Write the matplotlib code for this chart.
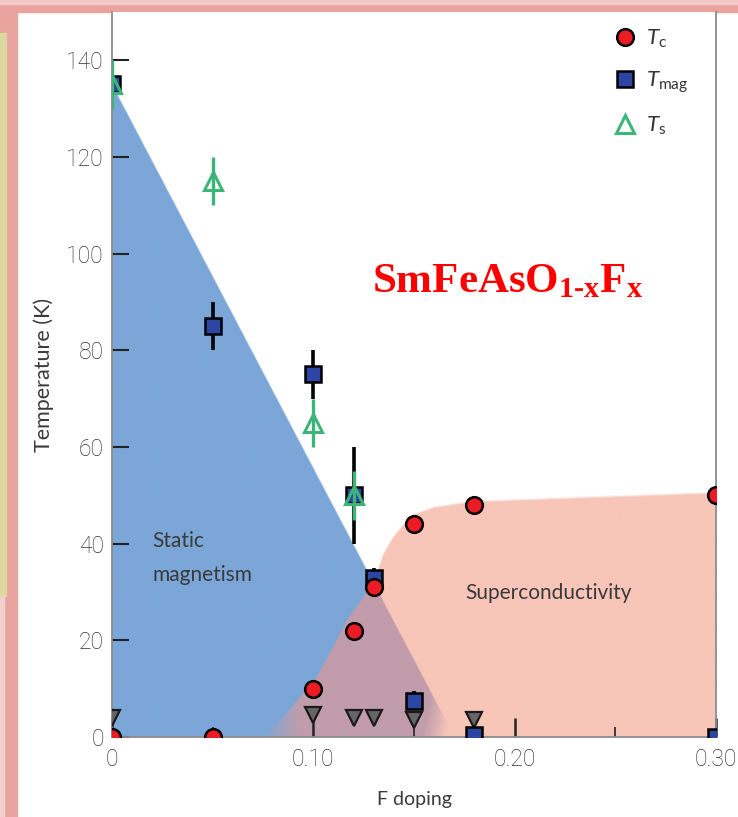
"""Phase diagram of SmFeAsO(1-x)F(x): magnetic, structural and superconducting transitions."""

import matplotlib
import matplotlib.pyplot as plt
import numpy as np
from matplotlib.lines import Line2D
from matplotlib.patches import Rectangle

matplotlib.use("Agg")

plt.rcParams["mathtext.fontset"] = "custom"
plt.rcParams["mathtext.rm"] = "Lato"
plt.rcParams["mathtext.it"] = "Lato:italic"
plt.rcParams["mathtext.bf"] = "Liberation Serif:bold"

# superconducting Tc
tc_x = [0.0, 0.05, 0.10, 0.12, 0.13, 0.15, 0.18, 0.30]
tc_T = [0, 0, 10, 22, 31, 44, 48, 50]

# magnetic ordering Tmag
mag_x = [0.0, 0.05, 0.10, 0.12, 0.13, 0.15, 0.18, 0.30]
mag_T = [135, 85, 75, 50, 33, 7.5, 0.5, 0]
mag_err = [0, 5, 5, 10, 2, 2, 0, 0]

# structural transition Ts
ts_x = [0.0, 0.05, 0.10, 0.12]
ts_T = [135, 115, 65, 50]
ts_err = [5, 5, 5, 5]

# low-temperature Sm ordering (grey down triangles)
sm_x = [0.0, 0.10, 0.12, 0.13, 0.15, 0.18]
sm_T = [4, 4.5, 4, 4, 3.5, 3.5]

# phase boundaries
mag_edge_x = [0.0, 0.17]
mag_edge_T = [135, 0]
sc_edge_x = [0.075, 0.085, 0.093, 0.101, 0.117, 0.13, 0.135, 0.14, 0.145, 0.15, 0.16, 0.18, 0.30]
sc_edge_T = [0, 4, 8, 11.8, 24.2, 32, 38, 41.5, 44, 46, 47.5, 48.7, 50.5]

x_ticks = [0.0, 0.10, 0.20, 0.30]
x_tick_labels = ["0", "0.10", "0.20", "0.30"]
y_ticks = [0, 20, 40, 60, 80, 100, 120, 140]

BLUE = np.array([123, 166, 216]) / 255
PINK = np.array([248, 197, 185]) / 255
MAUVE = np.array([193, 156, 170]) / 255
WHITE = np.ones(3)

fig = plt.figure(figsize=(7.38, 8.17), dpi=100)

# soft picture-frame edge along the top and left
fig.patches.append(Rectangle((0, 0.985), 1, 0.015, transform=fig.transFigure,
                             color="#E9A39E", zorder=-5))
fig.patches.append(Rectangle((0, 0), 0.023, 1, transform=fig.transFigure,
                             color="#E9A39E", zorder=-5))
fig.patches.append(Rectangle((0, 0.995), 1, 0.005, transform=fig.transFigure,
                             color="#F3C9C5", zorder=-4))
fig.patches.append(Rectangle((0, 0.27), 0.008, 0.69, transform=fig.transFigure,
                             color="#DCD8A0", zorder=-4))
fig.patches.append(Rectangle((0, 0), 0.006, 0.27, transform=fig.transFigure,
                             color="#F1CFCB", zorder=-4))

ax = fig.add_axes([112 / 738, 80 / 817, 604 / 738, 725 / 817])
ax.set_xlim(0, 0.30)
ax.set_ylim(0, 150)

# background phase regions, rendered as an image so the lower edges can fade
gx = np.linspace(0, 0.30, 900)
gT = np.linspace(0, 150, 600)
X, T = np.meshgrid(gx, gT)
Tb = np.interp(X, mag_edge_x, mag_edge_T, right=-50)
Tp = np.interp(X, sc_edge_x, sc_edge_T, left=-50)
wb = np.clip((Tb - T) / 0.4 + 0.5, 0, 1)
wb *= np.clip((0.166 - X) / 0.012 + 0.5 * (T / 12), 0, 1)
wp = np.clip((Tp - T) / 0.4 + 0.5, 0, 1)
wp *= np.clip((X - 0.074) / 0.02, 0, 1)
wb, wp = wb[..., None], wp[..., None]
rgb = (wb * wp * MAUVE + wb * (1 - wp) * BLUE
       + (1 - wb) * wp * PINK + (1 - wb) * (1 - wp) * WHITE)
ax.imshow(rgb, extent=(0, 0.30, 0, 150), origin="lower", aspect="auto",
          interpolation="bilinear", zorder=0)

ax.plot(sm_x, sm_T, "v", ms=11, mfc="#666666", mec="#1a1a1a", mew=1.6, zorder=3)

ax.errorbar(mag_x, mag_T, yerr=mag_err, fmt="none", ecolor="black",
            elinewidth=2.6, capsize=0, zorder=4)
h_mag, = ax.plot(mag_x, mag_T, "s", ms=11.5, mfc="#2D45A3", mec="black",
                 mew=1.8, zorder=4)

ax.errorbar(ts_x, ts_T, yerr=ts_err, fmt="none", ecolor="#3DB478",
            elinewidth=2.4, capsize=0, zorder=5)
h_ts, = ax.plot(ts_x, ts_T, "^", ms=13, mfc="none", mec="#3DB478",
                mew=2.2, zorder=5)

h_tc, = ax.plot(tc_x, tc_T, "o", ms=12, mfc="#EC1C24", mec="black",
                mew=1.8, zorder=6)

leg_handles = [
    Line2D([], [], ls="none", marker="o", ms=12, mfc="#EC1C24", mec="black", mew=1.8),
    Line2D([], [], ls="none", marker="s", ms=11.5, mfc="#2D45A3", mec="black", mew=1.8),
    Line2D([], [], ls="none", marker="^", ms=13, mfc="none", mec="#3DB478", mew=2.2),
]
ax.legend(leg_handles, [r"$T_{\rm c}$", r"$T_{\rm mag}$", r"$T_{\rm s}$"],
          loc="upper left", bbox_to_anchor=(0.805, 1.0), frameon=False,
          fontsize=16, handlelength=1.0, handletextpad=0.45, labelspacing=0.88,
          borderpad=0.2, labelcolor="#333333")

label_font = dict(family=["Lato", "DejaVu Sans"], color="#3a3a3a")
ax.text(0.02, 40.5, "Static", fontsize=15, va="center", ha="left", **label_font, zorder=7)
ax.text(0.02, 33.5, "magnetism", fontsize=15, va="center", ha="left", **label_font, zorder=7)
ax.text(0.1755, 29.8, "Superconductivity", fontsize=15, va="center", ha="left",
        **label_font, zorder=7)

ax.text(0.129, 92, "$\\mathbf{SmFeAsO_{1\u2010x}F_x}$", fontsize=31,
        color="#FF0000", ha="left", va="baseline", zorder=7)

ax.set_xticks(x_ticks)
ax.set_xticklabels(x_tick_labels)
ax.set_xticks([0.05, 0.15, 0.25], minor=True)
ax.set_yticks(y_ticks)

for lab in ax.get_xticklabels() + ax.get_yticklabels():
    lab.set_family(["Roboto", "DejaVu Sans"])
    lab.set_fontweight("light")
    lab.set_fontsize(16.5)
    lab.set_color("#333333")

ax.tick_params(axis="y", direction="in", length=12, width=1.5, color="#222222", pad=6)
ax.tick_params(axis="x", which="major", direction="in", length=14, width=1.8,
               color="#222222", pad=8)
ax.tick_params(axis="x", which="minor", direction="in", length=7, width=1.2,
               color="#222222")

ax.set_ylabel("Temperature (K)", fontsize=15.5, labelpad=9, **label_font)
ax.set_xlabel("F doping", fontsize=14, labelpad=14, **label_font)

for side in ("left", "bottom", "right"):
    ax.spines[side].set_color("#8c8c8c")
    ax.spines[side].set_linewidth(1.3)
ax.spines["top"].set_visible(False)

fig.savefig("out.png", dpi=100)
